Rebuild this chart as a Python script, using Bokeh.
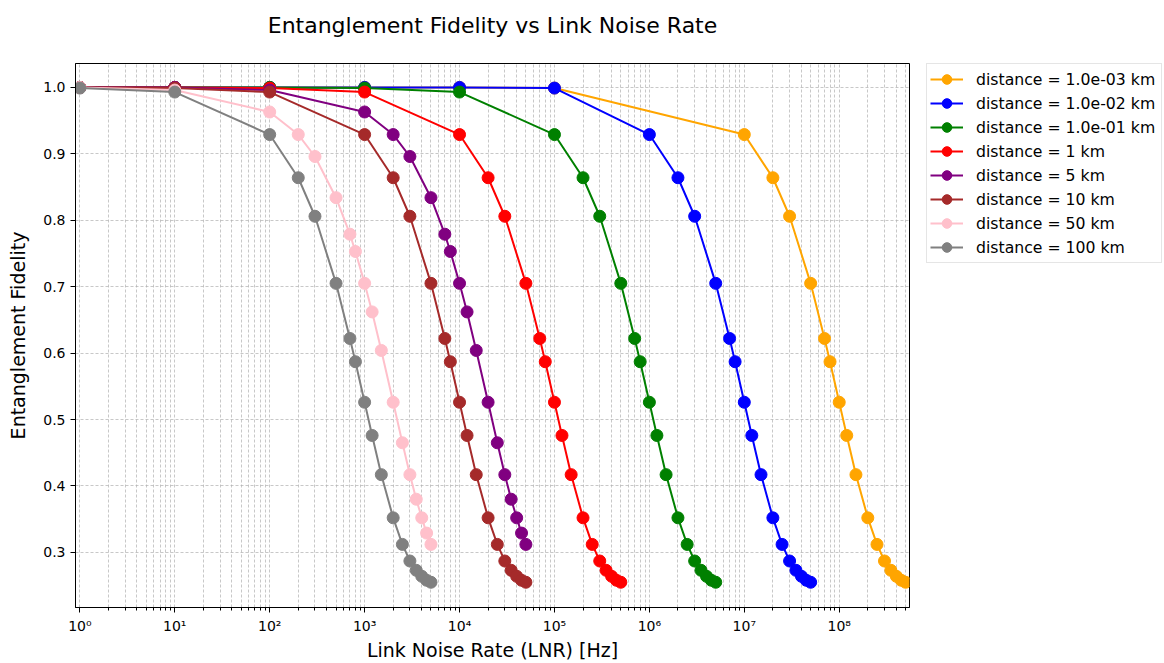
from bokeh.plotting import figure
from bokeh.layouts import row
from bokeh.models import (Range1d, FixedTicker, CustomJSTickFormatter, PrintfTickFormatter,
                          Legend, LegendItem, Title)
from bokeh.embed import file_html
from bokeh.resources import INLINE

# ---------------- data ----------------
labels = ["distance = 1.0e-03 km", "distance = 1.0e-02 km", "distance = 1.0e-01 km",
          "distance = 1 km", "distance = 5 km", "distance = 10 km",
          "distance = 50 km", "distance = 100 km"]
colors = ["orange", "blue", "green", "red", "purple", "brown", "pink", "gray"]

lnr_0001 = [1, 10, 100, 1e3, 1e4, 1e5, 1e7, 2e7, 3e7, 5e7, 7e7, 8e7, 1e8, 1.2e8, 1.5e8,
            2e8, 2.5e8, 3e8, 3.5e8, 4e8, 4.5e8, 5e8]
fid_0001 = [1.0, 1.0, 1.0, 1.0, 1.0, 0.999, 0.929, 0.864, 0.806, 0.705, 0.622, 0.587, 0.526,
            0.476, 0.417, 0.352, 0.312, 0.287, 0.273, 0.264, 0.258, 0.255]

lnr_001 = [1, 10, 100, 1e3, 1e4, 1e5, 1e6, 2e6, 3e6, 5e6, 7e6, 8e6, 1e7, 1.2e7, 1.5e7,
           2e7, 2.5e7, 3e7, 3.5e7, 4e7, 4.5e7, 5e7]
fid_001 = [1.0, 1.0, 1.0, 1.0, 1.0, 0.999, 0.929, 0.864, 0.806, 0.705, 0.622, 0.587, 0.526,
           0.476, 0.417, 0.352, 0.312, 0.287, 0.273, 0.264, 0.258, 0.255]

lnr_01 = [1, 10, 100, 1e3, 1e4, 1e5, 2e5, 3e5, 5e5, 7e5, 8e5, 1e6, 1.2e6, 1.5e6,
          2e6, 2.5e6, 3e6, 3.5e6, 4e6, 4.5e6, 5e6]
fid_01 = [1.0, 1.0, 1.0, 0.999, 0.993, 0.929, 0.864, 0.806, 0.705, 0.622, 0.587, 0.526,
          0.476, 0.417, 0.352, 0.312, 0.287, 0.273, 0.264, 0.258, 0.255]

lnr_1 = [1, 10, 100, 1e3, 1e4, 2e4, 3e4, 5e4, 7e4, 8e4, 1e5, 1.2e5, 1.5e5,
         2e5, 2.5e5, 3e5, 3.5e5, 4e5, 4.5e5, 5e5]
fid_1 = [1.0, 1.0, 0.999, 0.993, 0.929, 0.864, 0.806, 0.705, 0.622, 0.587, 0.526,
         0.476, 0.417, 0.352, 0.312, 0.287, 0.273, 0.264, 0.258, 0.255]

lnr_5 = [1, 10, 100, 1e3, 2e3, 3e3, 5e3, 7e3, 8e3, 1e4, 1.2e4, 1.5e4,
         2e4, 2.5e4, 3e4, 3.5e4, 4e4, 4.5e4, 5e4]
fid_5 = [1.0, 1.0, 0.996, 0.963, 0.929, 0.896, 0.834, 0.779, 0.753, 0.705, 0.662, 0.604,
         0.526, 0.465, 0.417, 0.380, 0.352, 0.329, 0.312]

lnr_10 = [1, 10, 100, 1e3, 2e3, 3e3, 5e3, 7e3, 8e3, 1e4, 1.2e4, 1.5e4,
          2e4, 2.5e4, 3e4, 3.5e4, 4e4, 4.5e4, 5e4]
fid_10 = [1.0, 0.999, 0.993, 0.929, 0.864, 0.806, 0.705, 0.622, 0.587, 0.526,
          0.476, 0.417, 0.352, 0.312, 0.287, 0.273, 0.264, 0.258, 0.255]

lnr_50 = [1, 10, 100, 200, 300, 500, 700, 800, 1000, 1200, 1500,
          2000, 2500, 3000, 3500, 4000, 4500, 5000]
fid_50 = [1.0, 0.996, 0.963, 0.929, 0.896, 0.834, 0.779, 0.753, 0.705, 0.662, 0.604,
          0.526, 0.465, 0.417, 0.380, 0.352, 0.329, 0.312]

lnr_100 = [1, 10, 100, 200, 300, 500, 700, 800, 1000, 1200, 1500,
           2000, 2500, 3000, 3500, 4000, 4500, 5000]
fid_100 = [0.999, 0.993, 0.929, 0.864, 0.806, 0.705, 0.622, 0.587, 0.526,
           0.476, 0.417, 0.352, 0.312, 0.287, 0.273, 0.264, 0.258, 0.255]

series_x = [lnr_0001, lnr_001, lnr_01, lnr_1, lnr_5, lnr_10, lnr_50, lnr_100]
series_y = [fid_0001, fid_001, fid_01, fid_1, fid_5, fid_10, fid_50, fid_100]

x_major = [1, 10, 100, 1e3, 1e4, 1e5, 1e6, 1e7, 1e8]
y_major = [0.3, 0.4, 0.5, 0.6, 0.7, 0.8, 0.9, 1.0]

# ---------------- layout ----------------
W, H = 1164, 663
BL, BT, BB = 75, 63, 56
FRAME_W = 834
PW = BL + FRAME_W + 3          # main figure width
LW = W - PW                    # legend figure width
FONT = "DejaVu Sans"

p = figure(width=PW, height=H, x_axis_type="log",
           x_range=Range1d(0.9, 5.5e8), y_range=Range1d(0.217, 1.036),
           output_backend="svg", toolbar_location=None,
           min_border_left=BL, min_border_right=3, min_border_top=BT, min_border_bottom=BB)
p.title = None

# spacer (nearest the frame) then the real title above it
p.add_layout(Title(text=" ", text_font_size="1px", standoff=13), "above")
p.add_layout(Title(text="Entanglement Fidelity vs Link Noise Rate", text_font=FONT,
                   text_font_size="22px", text_font_style="normal", text_color="black",
                   align="center", standoff=20), "above")

p.outline_line_color = "black"
p.outline_line_width = 1
p.background_fill_color = "white"
p.border_fill_color = "white"

minor = [m * d for d in x_major for m in range(2, 10)]
p.xaxis.ticker = FixedTicker(ticks=x_major, minor_ticks=minor)
p.xaxis.formatter = CustomJSTickFormatter(code="""
const sup = {"0":"\u2070","1":"\u00b9","2":"\u00b2","3":"\u00b3","4":"\u2074","5":"\u2075",
             "6":"\u2076","7":"\u2077","8":"\u2078","9":"\u2079","-":"\u207b"};
const e = Math.round(Math.log10(tick));
return "10" + String(e).split("").map(c => sup[c]).join("");
""")
p.yaxis.ticker = FixedTicker(ticks=y_major)
p.yaxis.formatter = PrintfTickFormatter(format="%.1f")

for ax in (p.xaxis, p.yaxis):
    ax.axis_line_color = "black"
    ax.major_tick_line_color = "black"
    ax.major_tick_out = 5
    ax.major_tick_in = 0
    ax.minor_tick_line_color = "black"
    ax.minor_tick_out = 3
    ax.minor_tick_in = 0
    ax.major_label_text_font = FONT
    ax.major_label_text_font_size = "14px"
    ax.major_label_text_color = "black"
    ax.axis_label_text_font = FONT
    ax.axis_label_text_font_size = "19px"
    ax.axis_label_text_font_style = "normal"
    ax.axis_label_text_color = "black"
p.yaxis.minor_tick_line_color = None
p.xaxis.axis_label = "Link Noise Rate (LNR) [Hz]"
p.yaxis.axis_label = "Entanglement Fidelity"
p.xaxis.major_label_standoff = 5
p.yaxis.major_label_standoff = 5
p.xaxis.axis_label_standoff = 2
p.yaxis.axis_label_standoff = 11

for g in (p.xgrid, p.ygrid):
    g.grid_line_color = "#b0b0b0"
    g.grid_line_dash = "3 2"
    g.grid_line_width = 0.7
p.xgrid.minor_grid_line_color = "#b0b0b0"
p.xgrid.minor_grid_line_dash = "3 2"
p.xgrid.minor_grid_line_width = 0.7

for col, xs, ys in zip(colors, series_x, series_y):
    p.line(xs, ys, line_color=col, line_width=2)
    p.scatter(xs, ys, marker="circle", size=12, fill_color=col, line_color=col)

# ---------------- legend panel (second figure) ----------------
# same series drawn again, but outside this figure's visible ranges: only the legend shows
q = figure(width=LW, height=H, x_range=Range1d(-2, -1), y_range=Range1d(0, 1),
           output_backend="svg", toolbar_location=None,
           x_axis_location=None, y_axis_location=None,
           min_border_left=926 - PW, min_border_top=57, min_border_right=0, min_border_bottom=0)
q.outline_line_color = None
q.background_fill_color = "white"
q.border_fill_color = "white"
q.grid.visible = False

items = []
for lab, col, xs, ys in zip(labels, colors, series_x, series_y):
    lr = q.line(xs, ys, line_color=col, line_width=2)
    sr = q.scatter(xs, ys, marker="circle", size=12, fill_color=col, line_color=col)
    items.append(LegendItem(label=lab, renderers=[lr, sr]))

legend = Legend(items=items, location="top_left",
                label_text_font=FONT, label_text_font_size="15.7px", label_text_color="black",
                glyph_width=33, glyph_height=24, label_height=20, label_width=182,
                label_standoff=13, spacing=0, padding=3, margin=0,
                border_line_color="#cccccc", border_line_width=1,
                background_fill_color="white", background_fill_alpha=1.0)
q.add_layout(legend, "center")

layout = row(p, q)

with open("out.html", "w", encoding="utf-8") as f:
    f.write(file_html(layout, INLINE))
